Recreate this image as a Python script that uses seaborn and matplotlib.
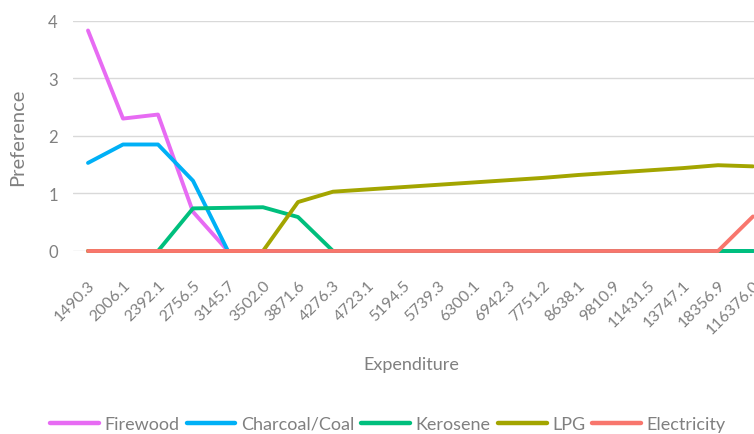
import matplotlib
matplotlib.use("Agg")
import matplotlib.pyplot as plt
import seaborn as sns
import pandas as pd

# Household expenditure classes (category axis)
expenditure = ["1490.3", "2006.1", "2392.1", "2756.5", "3145.7", "3502.0", "3871.6",
               "4276.3", "4723.1", "5194.5", "5739.3", "6300.1", "6942.3", "7751.2",
               "8638.1", "9810.9", "11431.5", "13747.1", "18356.9", "116376.0"]

# Fuel preference per expenditure class
firewood = [3.83, 2.30, 2.37, 0.68, 0, 0, 0, 0, 0, 0, 0, 0, 0, 0, 0, 0, 0, 0, 0, 0]
charcoal = [1.53, 1.85, 1.85, 1.22, 0, 0, 0, 0, 0, 0, 0, 0, 0, 0, 0, 0, 0, 0, 0, 0]
kerosene = [0, 0, 0, 0.74, 0.75, 0.76, 0.59, 0, 0, 0, 0, 0, 0, 0, 0, 0, 0, 0, 0, 0]
lpg = [0, 0, 0, 0, 0, 0, 0.85, 1.03, 1.07, 1.11, 1.15, 1.19, 1.23, 1.27, 1.32,
       1.36, 1.40, 1.44, 1.49, 1.47]
electricity = [0, 0, 0, 0, 0, 0, 0, 0, 0, 0, 0, 0, 0, 0, 0, 0, 0, 0, 0, 0.60]

fuels = ["Firewood", "Charcoal/Coal", "Kerosene", "LPG", "Electricity"]
colors = ["#E76BF3", "#00B0F6", "#00BF7D", "#A3A500", "#F8766D"]

frames = []
for name, vals in zip(fuels, [firewood, charcoal, kerosene, lpg, electricity]):
    frames.append(pd.DataFrame({"Expenditure": expenditure, "Preference": vals, "Fuel": name}))
df = pd.concat(frames, ignore_index=True)

sns.set_theme(style="white")
plt.rcParams["font.family"] = ["Lato", "DejaVu Sans"]
text_grey = "#808080"

fig = plt.figure(figsize=(7.54, 4.35), dpi=100)
W, H = 754, 435
left_px, right_px, top_px, bot_px = 73, 754, 21.7, 252
ax = fig.add_axes([left_px / W, 1 - bot_px / H, (right_px - left_px) / W, (bot_px - top_px) / H])

sns.lineplot(data=df, x="Expenditure", y="Preference", hue="Fuel", hue_order=fuels,
             palette=colors, linewidth=2.8, ax=ax, legend=False, sort=False)
for ln in ax.lines:
    ln.set_clip_on(False)
    ln.set_solid_capstyle("round")

step = 35.0
ax.set_xlim(-(88 - left_px) / step, (right_px - 88) / step)
ax.set_ylim(0, 4)
ax.set_yticks([0, 1, 2, 3, 4])
ax.set_xticks(range(len(expenditure)))
ax.set_xticklabels(expenditure, rotation=45, ha="right", va="top",
                   rotation_mode="anchor", fontsize=11.5, color=text_grey)
ax.tick_params(axis="x", length=0, pad=19)
ax.tick_params(axis="y", length=0, pad=11, labelsize=12, labelcolor=text_grey)
ax.grid(axis="y", color="#D9D9D9", linewidth=1)
ax.set_axisbelow(True)
for s in ax.spines.values():
    s.set_visible(False)

ax.set_ylabel("Preference", fontsize=14.5, color=text_grey)
ax.yaxis.set_label_coords((26 - left_px) / (right_px - left_px), 0.50)
ax.set_xlabel("")
fig.text(411 / W, 1 - 365 / H, "Expenditure", ha="center", va="center",
         fontsize=13, color=text_grey)

handles = [plt.Line2D([], [], color=c, linewidth=3.2) for c in colors]
fig.legend(handles, fuels, loc="center", bbox_to_anchor=(388 / W, 1 - 425 / H), ncol=5,
           frameon=False, fontsize=13, labelcolor=text_grey, handlelength=2.7,
           handletextpad=0.3, columnspacing=0.4)

fig.savefig("out.png", dpi=100)
